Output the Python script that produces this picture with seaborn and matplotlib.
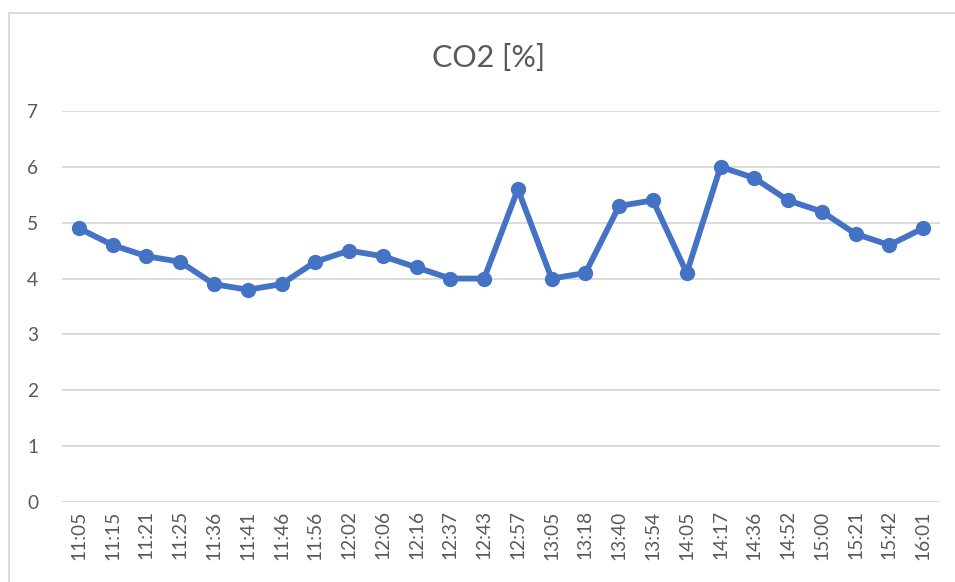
import numpy as np
import pandas as pd
import matplotlib
matplotlib.use('Agg')
import matplotlib.pyplot as plt
import seaborn as sns
from matplotlib.patches import Rectangle

# horas da medicao
horas = ['11:05', '11:15', '11:21', '11:25', '11:36', '11:41', '11:46', '11:56',
         '12:02', '12:06', '12:16', '12:37', '12:43', '12:57', '13:05', '13:18',
         '13:40', '13:54', '14:05', '14:17', '14:36', '14:52', '15:00', '15:21',
         '15:42', '16:01']
# valores de CO2
co2 = [4.9, 4.6, 4.4, 4.3, 3.9, 3.8, 3.9, 4.3, 4.5, 4.4, 4.2, 4.0, 4.0, 5.6,
       4.0, 4.1, 5.3, 5.4, 4.1, 6.0, 5.8, 5.4, 5.2, 4.8, 4.6, 4.9]

dados = pd.DataFrame({'hora': horas, 'co2': co2})

sns.set_theme(style='white')
plt.rcParams['font.family'] = ['Lato', 'DejaVu Sans']

fig = plt.figure(figsize=(9.55, 5.82), dpi=100)
ax = fig.add_axes([62/955, 80/582, 878/955, 391/582])

sns.lineplot(data=dados, x='hora', y='co2', ax=ax, color='#4472C4',
             linewidth=4.2, marker='o', markersize=11, markeredgewidth=0,
             sort=False)

ax.set_xlim(-0.5, len(horas) - 0.5)
ax.set_ylim(0, 7)
ax.set_yticks(range(0, 8))
ax.grid(axis='y', color='#d9d9d9', linewidth=1.3)
ax.set_axisbelow(True)
for s in ax.spines.values():
    s.set_visible(False)
ax.tick_params(axis='x', rotation=90, labelsize=13.8, colors='#595959', length=0, pad=6)
ax.tick_params(axis='y', labelsize=13.8, colors='#595959', length=0, pad=17)
ax.set_xlabel('')
ax.set_ylabel('')

fig.text(0.512, 1 - 58/582, 'CO2 [%]', ha='center', va='center',
         fontsize=22, color='#595959')

# moldura do grafico
fig.patches.append(Rectangle((8.5/955, -0.1), 2, 1.1 - 12.5/582, transform=fig.transFigure,
                             fill=False, edgecolor='#d9d9d9', linewidth=1.3))

fig.savefig('out.png', dpi=100)
